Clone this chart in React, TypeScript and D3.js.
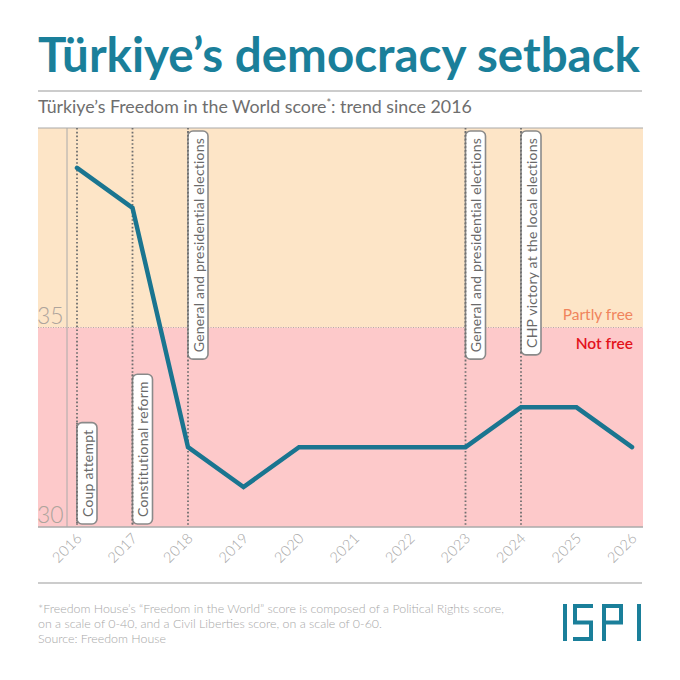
import { useEffect, useRef } from "react";
import * as d3 from "d3";

const years = [2016, 2017, 2018, 2019, 2020, 2021, 2022, 2023, 2024, 2025, 2026];
const scores = [39, 38, 32, 31, 32, 32, 32, 32, 33, 33, 32];
const yTicks = [30, 35];
const eventYears = [2016, 2017, 2018, 2023, 2024];
const eventLabels = [
  "Coup attempt",
  "Constitutional reform",
  "General and presidential elections",
  "General and presidential elections",
  "CHP victory at the local elections",
];
const eventPlacement = ["bottom", "bottom", "top", "top", "top"];
const notFreeMax = 35;
const footnotes = [
  "*Freedom House’s “Freedom in the World” score is composed of a Political Rights score,",
  "on a scale of 0-40, and a Civil Liberties score, on a scale of 0-60.",
  "Source: Freedom House",
];

const FONT = "Lato, 'Open Sans', sans-serif";
const TEAL = "#1a7f9a";

export default function App() {
  const chartRef = useRef<SVGSVGElement>(null);

  useEffect(() => {
    if (!chartRef.current) return;
    d3.select(chartRef.current).selectAll("*").remove();

    const width = 680;
    const height = 680;
    const plot = { left: 38, right: 643, top: 128, bottom: 527 };

    const svg = d3
      .select(chartRef.current)
      .attr("width", width)
      .attr("height", height)
      .attr("viewBox", `0 0 ${width} ${height}`)
      .style("font-family", FONT);

    svg.append("rect").attr("width", width).attr("height", height).attr("fill", "#fff");

    const x = d3.scaleLinear().domain([2016, 2026]).range([77, 632]);
    const y = d3.scaleLinear().domain([30, 40]).range([plot.bottom, plot.top]);

    // Title
    svg
      .append("text")
      .attr("x", 38)
      .attr("y", 72)
      .attr("fill", TEAL)
      .style("font-size", "47px")
      .style("font-weight", 700)
      .attr("textLength", 602)
      .attr("lengthAdjust", "spacingAndGlyphs")
      .text("Türkiye’s democracy setback");

    svg
      .append("line")
      .attr("x1", 38)
      .attr("x2", 642)
      .attr("y1", 91)
      .attr("y2", 91)
      .attr("stroke", "#999")
      .attr("stroke-width", 1.2);

    const sub = svg
      .append("text")
      .attr("x", 38)
      .attr("y", 113)
      .attr("fill", "#6e6e6e")
      .style("font-size", "17.8px")
      .style("font-weight", 400);
    sub.append("tspan").text("Türkiye’s Freedom in the World score");
    sub.append("tspan").attr("dy", -6).style("font-size", "11px").text("*");
    sub.append("tspan").attr("dy", 6).text(": trend since 2016");

    // Background zones
    svg
      .append("rect")
      .attr("x", plot.left)
      .attr("y", y(40))
      .attr("width", plot.right - plot.left)
      .attr("height", y(notFreeMax) - y(40))
      .attr("fill", "#fde5c7");
    svg
      .append("rect")
      .attr("x", plot.left)
      .attr("y", y(notFreeMax))
      .attr("width", plot.right - plot.left)
      .attr("height", y(30) - y(notFreeMax))
      .attr("fill", "#fdc9ca");
    svg
      .append("line")
      .attr("x1", plot.left)
      .attr("x2", plot.right)
      .attr("y1", y(notFreeMax))
      .attr("y2", y(notFreeMax))
      .attr("stroke", "#b9a9a6")
      .attr("stroke-width", 1)
      .attr("stroke-dasharray", "1 1.5");

    // Frame lines
    svg
      .append("line")
      .attr("x1", plot.left)
      .attr("x2", plot.right)
      .attr("y1", plot.top)
      .attr("y2", plot.top)
      .attr("stroke", "#aaa")
      .attr("stroke-width", 1.2);
    svg
      .append("line")
      .attr("x1", plot.left)
      .attr("x2", plot.right)
      .attr("y1", plot.bottom)
      .attr("y2", plot.bottom)
      .attr("stroke", "#aaa")
      .attr("stroke-width", 1.5);
    svg
      .append("line")
      .attr("x1", 67)
      .attr("x2", 67)
      .attr("y1", plot.top)
      .attr("y2", plot.bottom)
      .attr("stroke", "#aaa")
      .attr("stroke-width", 1);

    // Y tick labels
    svg
      .selectAll(".ytick")
      .data(yTicks)
      .join("text")
      .attr("class", "ytick")
      .attr("x", 37)
      .attr("y", (d) => y(d) - 4)
      .attr("fill", "#aea49c")
      .style("font-size", "23px")
      .style("font-weight", 300)
      .text((d) => d);

    // X tick labels
    svg
      .selectAll(".xtick")
      .data(years)
      .join("text")
      .attr("class", "xtick")
      .attr("transform", (d) => `translate(${x(d) + 6},${plot.bottom + 12}) rotate(-45)`)
      .attr("text-anchor", "end")
      .attr("fill", "#a6a6a6")
      .style("font-size", "14.5px")
      .style("font-weight", 300)
      .style("letter-spacing", "0.3px")
      .text((d) => d);

    // Zone labels
    svg
      .append("text")
      .attr("x", 633)
      .attr("y", y(notFreeMax) - 8)
      .attr("text-anchor", "end")
      .attr("fill", "#f0845c")
      .style("font-size", "15.5px")
      .style("font-weight", 400)
      .text("Partly free");
    svg
      .append("text")
      .attr("x", 633)
      .attr("y", y(notFreeMax) + 21)
      .attr("text-anchor", "end")
      .attr("fill", "#e3121b")
      .style("font-size", "15.5px")
      .style("font-weight", 600)
      .text("Not free");

    // Event markers
    const events = eventYears.map((yr, i) => ({
      year: yr,
      label: eventLabels[i],
      place: eventPlacement[i],
    }));

    const ev = svg
      .selectAll(".event")
      .data(events)
      .join("g")
      .attr("class", "event");

    ev.append("line")
      .attr("x1", (d) => x(d.year))
      .attr("x2", (d) => x(d.year))
      .attr("y1", plot.top)
      .attr("y2", plot.bottom)
      .attr("stroke", "#6f6f6f")
      .attr("stroke-width", 1.8)
      .attr("stroke-dasharray", "1.6 2.2");

    ev.each(function (d) {
      const g = d3.select(this);
      const lx = x(d.year);
      const box = g.append("rect");
      const t = g
        .append("text")
        .attr("fill", "#6a6a6a")
        .style("font-size", "14px")
        .style("font-weight", 400)
        .style("letter-spacing", "0.2px")
        .text(d.label);
      const len = (t.node() as SVGTextElement).getComputedTextLength();
      const pad = 7;
      const h = len + pad * 2;
      const top = d.place === "top" ? plot.top + 3 : plot.bottom - 3 - h;
      box
        .attr("x", lx)
        .attr("y", top)
        .attr("width", 20)
        .attr("height", h)
        .attr("rx", 5)
        .attr("fill", "#fff")
        .attr("stroke", "#8a8a8a")
        .attr("stroke-width", 1.6);
      t.attr("transform", `translate(${lx + 15.5},${top + h - pad}) rotate(-90)`);
      g.append("line")
        .attr("x1", lx)
        .attr("x2", lx)
        .attr("y1", top)
        .attr("y2", top + h)
        .attr("stroke", "#6f6f6f")
        .attr("stroke-width", 1.8)
        .attr("stroke-dasharray", "1.6 2.2");
    });

    // Score line
    const line = d3
      .line<number>()
      .x((_, i) => x(years[i]))
      .y((d) => y(d));
    svg
      .append("path")
      .datum(scores)
      .attr("d", line)
      .attr("fill", "none")
      .attr("stroke", "#1a7590")
      .attr("stroke-width", 4.5)
      .attr("stroke-linecap", "round");

    // Footer
    svg
      .append("line")
      .attr("x1", 38)
      .attr("x2", 642)
      .attr("y1", 583)
      .attr("y2", 583)
      .attr("stroke", "#999")
      .attr("stroke-width", 1.2);

    svg
      .selectAll(".foot")
      .data(footnotes)
      .join("text")
      .attr("class", "foot")
      .attr("x", 38)
      .attr("y", (_, i) => 613 + i * 15)
      .attr("fill", "#a8a8a8")
      .style("font-size", "12.4px")
      .style("font-weight", 300)
      .text((d) => d);

    // ISPI logo
    const logo = svg.append("g").attr("aria-label", "ISPI").attr("fill", "none").attr("stroke", TEAL).attr("stroke-width", 4);
    logo.append("path").attr("d", "M565 604 V641");
    logo.append("path").attr("d", "M593 606 H575 V622.5 H591 V639 H573");
    logo.append("path").attr("d", "M604 641 V606 H621 V622.5 H604");
    logo.append("path").attr("d", "M639 604 V641");
  }, []);

  return (
    <div style={{ position: "absolute", left: 0, top: 0 }}>
      <svg ref={chartRef}></svg>
    </div>
  );
}
